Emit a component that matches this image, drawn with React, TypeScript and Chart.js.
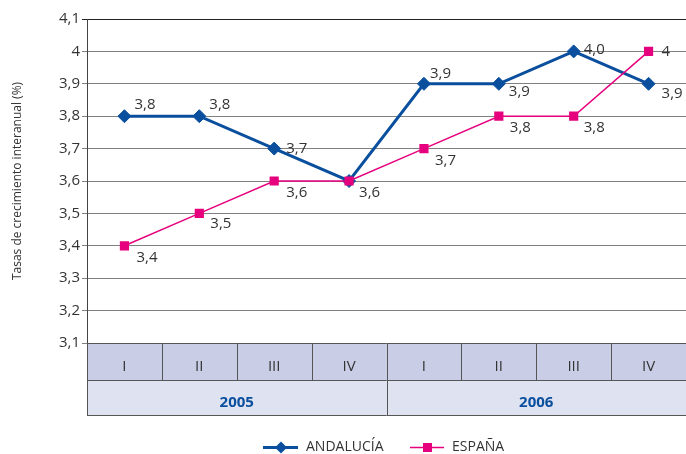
import React, { useEffect, useRef } from 'react';
import { Chart, registerables } from 'chart.js';

Chart.register(...registerables);

const QUARTERS = ['I', 'II', 'III', 'IV', 'I', 'II', 'III', 'IV'];
const YEARS = ['2005', '2006'];
const ANDALUCIA = [3.8, 3.8, 3.7, 3.6, 3.9, 3.9, 4.0, 3.9];
const ESPANA = [3.4, 3.5, 3.6, 3.6, 3.7, 3.8, 3.8, 4.0];
const Y_MIN = 3.1;
const Y_MAX = 4.1;
const Y_STEP = 0.1;
const Y_TITLE = 'Tasas de crecimiento interanual (%)';
const SERIES_NAMES = ['ANDALUCÍA', 'ESPAÑA'];

const BLUE = '#0a4f9e';
const PINK = '#e6007e';
const TEXT = '#333333';
const FONT = "'Open Sans', 'DejaVu Sans', sans-serif";

// label offsets (style only)
const AND_OFF: ([number, number] | null)[] = [[10, -11], [10, -11], [12, 0], [10, 12], [6, -10], [10, 8], [10, -2], [13, 10]];
const ESP_OFF: ([number, number] | null)[] = [[12, 12], [11, 10], [12, 12], null, [11, 12], [11, 12], [10, 12], [13, 0]];

const fmtAnd = (v: number) => v.toFixed(1).replace('.', ',');
const fmtEsp = (v: number) => String(Number(v.toFixed(1))).replace('.', ',');

const overlay = {
  id: 'overlay',
  afterDatasetsDraw(chart: any) {
    const ctx = chart.ctx as CanvasRenderingContext2D;
    const x = chart.scales.x;
    const y = chart.scales.y;
    ctx.save();
    ctx.font = `15px ${FONT}`;
    ctx.fillStyle = TEXT;
    ctx.textAlign = 'left';
    ctx.textBaseline = 'middle';
    ANDALUCIA.forEach((v, i) => {
      const o = AND_OFF[i];
      if (!o) return;
      ctx.fillText(fmtAnd(v), x.getPixelForValue(i) + o[0], y.getPixelForValue(v) + o[1]);
    });
    ESPANA.forEach((v, i) => {
      const o = ESP_OFF[i];
      if (!o) return;
      ctx.fillText(fmtEsp(v), x.getPixelForValue(i) + o[0], y.getPixelForValue(v) + o[1]);
    });
    ctx.restore();
  },
  afterDraw(chart: any) {
    const ctx = chart.ctx as CanvasRenderingContext2D;
    const area = chart.chartArea;
    const left = area.left;
    const right = area.right;
    const n = QUARTERS.length;
    const w = (right - left) / n;
    const r1t = area.bottom;
    const r1b = r1t + 37;
    const r2b = r1b + 35;
    ctx.save();
    ctx.fillStyle = '#c9cee6';
    ctx.fillRect(left, r1t, right - left, r1b - r1t);
    ctx.fillStyle = '#dfe2f1';
    ctx.fillRect(left, r1b, right - left, r2b - r1b);
    ctx.strokeStyle = '#555555';
    ctx.lineWidth = 1;
    ctx.beginPath();
    [r1t, r1b, r2b].forEach((yy) => {
      ctx.moveTo(left, Math.round(yy) + 0.5);
      ctx.lineTo(right, Math.round(yy) + 0.5);
    });
    for (let i = 0; i < n; i++) {
      const xx = Math.round(left + i * w) + 0.5;
      ctx.moveTo(xx, r1t);
      ctx.lineTo(xx, r1b);
    }
    const perYear = n / YEARS.length;
    for (let j = 0; j < YEARS.length; j++) {
      const xx = Math.round(left + j * perYear * w) + 0.5;
      ctx.moveTo(xx, r1b);
      ctx.lineTo(xx, r2b);
    }
    ctx.stroke();
    ctx.textAlign = 'center';
    ctx.textBaseline = 'middle';
    ctx.font = `15px ${FONT}`;
    ctx.fillStyle = TEXT;
    QUARTERS.forEach((q, i) => {
      ctx.fillText(q, left + (i + 0.5) * w, (r1t + r1b) / 2 + 5);
    });
    ctx.font = `bold 15px ${FONT}`;
    ctx.fillStyle = BLUE;
    YEARS.forEach((yr, j) => {
      ctx.fillText(yr, left + (j + 0.5) * perYear * w, (r1b + r2b) / 2 + 5);
    });
    ctx.save();
    ctx.translate(18, (area.top + area.bottom) / 2);
    ctx.rotate(-Math.PI / 2);
    ctx.font = `12px ${FONT}`;
    ctx.fillStyle = TEXT;
    ctx.textAlign = 'center';
    ctx.textBaseline = 'middle';
    ctx.fillText(Y_TITLE, 0, 0);
    ctx.restore();
    const ly = 447.5;
    ctx.font = `14px ${FONT}`;
    ctx.textAlign = 'left';
    ctx.textBaseline = 'middle';
    ctx.strokeStyle = BLUE;
    ctx.lineWidth = 3;
    ctx.beginPath();
    ctx.moveTo(263, ly);
    ctx.lineTo(298, ly);
    ctx.stroke();
    ctx.fillStyle = BLUE;
    ctx.beginPath();
    ctx.moveTo(281, ly - 6);
    ctx.lineTo(287, ly);
    ctx.lineTo(281, ly + 6);
    ctx.lineTo(275, ly);
    ctx.closePath();
    ctx.fill();
    ctx.fillStyle = TEXT;
    ctx.fillText(SERIES_NAMES[0], 306, ly);
    ctx.strokeStyle = PINK;
    ctx.lineWidth = 1.5;
    ctx.beginPath();
    ctx.moveTo(410, ly);
    ctx.lineTo(444, ly);
    ctx.stroke();
    ctx.fillStyle = PINK;
    ctx.fillRect(423, ly - 4.5, 9, 9);
    ctx.fillStyle = TEXT;
    ctx.fillText(SERIES_NAMES[1], 452, ly);
    ctx.restore();
  },
};

export default function App() {
  const ref = useRef<HTMLCanvasElement>(null);
  useEffect(() => {
    if (!ref.current) return;
    const chart = new Chart(ref.current, {
      type: 'line',
      data: {
        labels: QUARTERS.map((q, i) => `${q}-${YEARS[Math.floor(i / 4)]}`),
        datasets: [
          {
            label: SERIES_NAMES[1],
            data: ESPANA,
            borderColor: PINK,
            backgroundColor: PINK,
            borderWidth: 1.5,
            pointStyle: 'rect',
            pointRadius: 6.5,
            pointBorderWidth: 0,
            tension: 0,
            order: 0,
          },
          {
            label: SERIES_NAMES[0],
            data: ANDALUCIA,
            borderColor: BLUE,
            backgroundColor: BLUE,
            borderWidth: 3,
            pointStyle: 'rectRot',
            pointRadius: 6.5,
            pointBorderWidth: 1,
            tension: 0,
            order: 1,
          },
        ],
      },
      options: {
        animation: false,
        responsive: false,
        devicePixelRatio: 1,
        layout: { autoPadding: false, padding: { top: 19, right: 0, left: 0, bottom: 0 } },
        plugins: {
          legend: { display: false },
          tooltip: { enabled: false },
          title: { display: false },
        },
        scales: {
          x: {
            type: 'category',
            offset: true,
            grid: { display: false },
            border: { display: false },
            ticks: { display: false },
            afterFit: (s: any) => {
              s.height = 111;
              s.paddingLeft = 0;
              s.paddingRight = 0;
            },
          },
          y: {
            min: Y_MIN,
            max: Y_MAX,
            ticks: {
              stepSize: Y_STEP,
              color: TEXT,
              font: { size: 15, family: FONT },
              padding: 2,
              callback: (v: any) => String(Number(Number(v).toFixed(1))).replace('.', ','),
            },
            grid: {
              color: (c: any) => (c.tick && c.tick.value > Y_MAX - 0.01 ? '#222222' : '#808080'),
              tickLength: 5,
              lineWidth: 1,
            },
            border: { color: '#444444', width: 1 },
            afterFit: (s: any) => {
              s.width = 87;
            },
          },
        },
      },
      plugins: [overlay],
    });
    return () => chart.destroy();
  }, []);
  return (
    <div style={{ position: 'fixed', left: 0, top: 0, width: 686, height: 454, background: '#fff' }}>
      <canvas ref={ref} width={686} height={454} />
    </div>
  );
}
